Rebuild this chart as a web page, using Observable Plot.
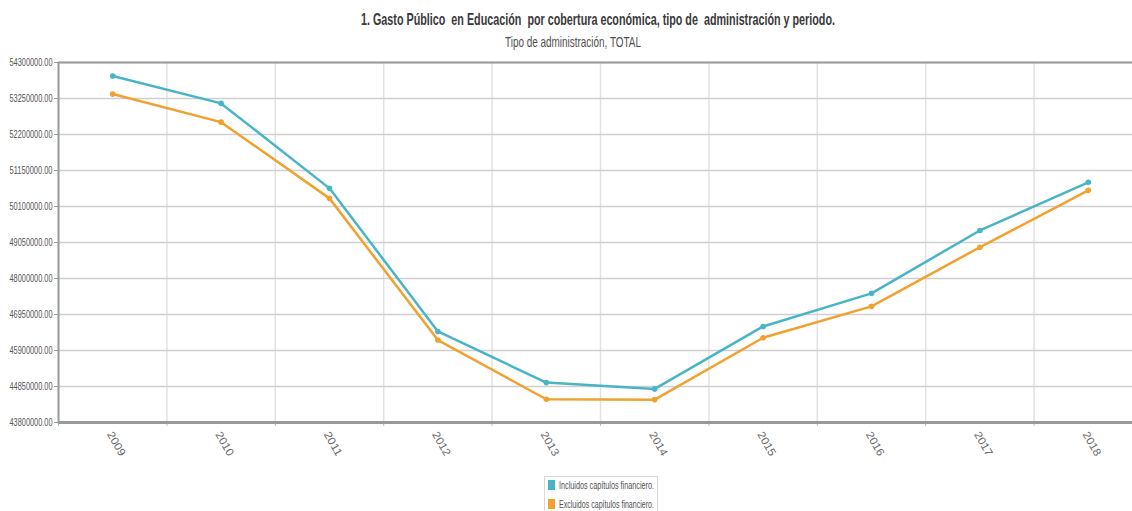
<!DOCTYPE html>
<html>
<head>
<meta charset="utf-8">
<script src="https://cdn.jsdelivr.net/npm/d3@7"></script>
<script src="https://cdn.jsdelivr.net/npm/@observablehq/plot@0.6"></script>
<style>
  html, body { margin: 0; padding: 0; background: #fff; overflow: hidden; width: 1132px; height: 511px; }
  #wrap { position: relative; width: 1132px; height: 511px; overflow: hidden; font-family: "Liberation Sans", Arial, sans-serif; }
  #title { position: absolute; left: 361px; top: 10px; font-size: 17px; font-weight: bold; color: #3a3a3a; white-space: pre; transform-origin: 0 0; }
  #subtitle { position: absolute; left: 505px; top: 33px; font-size: 15px; color: #505050; white-space: pre; transform-origin: 0 0; }
  #chart { position: absolute; left: 0; top: 0; width: 1142px; }
  #chart svg { max-width: none !important; }
  #legend { position: absolute; left: 544px; top: 476px; width: 112px; height: 40px; border: 1px solid #d8d8d8; }
  .sw { position: absolute; left: 3px; width: 7px; height: 10px; }
  .lt { position: absolute; left: 14px; font-size: 11px; color: #505050; white-space: pre; transform-origin: 0 0; line-height: 12px; }
</style>
</head>
<body>
<div id="wrap">
  <div id="chart"></div>
  <div id="title">1. Gasto Público  en Educación  por cobertura económica, tipo de  administración y periodo.</div>
  <div id="subtitle">Tipo de administración, TOTAL</div>
  <div id="legend"></div>
</div>
<script>
const years = [2009, 2010, 2011, 2012, 2013, 2014, 2015, 2016, 2017, 2018];
const seriesNames = ["Incluidos capítulos financiero.", "Excluidos capítulos financiero."];
const incluidos = [53905000, 53107000, 50629000, 46455000, 44964000, 44780000, 46602000, 47567000, 49401000, 50805000];
const excluidos = [53379000, 52560000, 50337000, 46204000, 44478000, 44467000, 46271000, 47187000, 48912000, 50571000];
const yTicks = [43800000, 44850000, 45900000, 46950000, 48000000, 49050000, 50100000, 51150000, 52200000, 53250000, 54300000];
const colors = ["#4ab4c7", "#f0a12e"];

const data = [];
years.forEach((y, i) => {
  data.push({year: y, value: incluidos[i], serie: seriesNames[0]});
  data.push({year: y, value: excluidos[i], serie: seriesNames[1]});
});
const bandEdges = years.map(y => y - 0.5).concat([years[years.length - 1] + 0.5]);

const font = "'Liberation Sans', Arial, sans-serif";

const chart = Plot.plot({
  width: 1142,
  height: 470,
  marginTop: 62,
  marginBottom: 48,
  marginLeft: 58,
  marginRight: 0,
  style: { fontFamily: font, fontSize: "10px", color: "#555", background: "transparent", overflow: "visible", maxWidth: "none" },
  x: { domain: [2008.5, 2018.5], axis: null, label: null },
  y: { domain: [43800000, 54300000], axis: null, label: null },
  color: { domain: seriesNames, range: colors },
  marks: [
    Plot.ruleX(bandEdges, { stroke: "#e2e2e2", strokeWidth: 1.5 }),
    Plot.ruleY(yTicks, { stroke: "#cfcfcf", strokeWidth: 1.5 }),
    Plot.ruleY([54300000], { stroke: "#9a9a9a", strokeWidth: 2 }),
    Plot.axisY({ ticks: yTicks, tickFormat: d => d.toFixed(2), tickSize: 4, tickPadding: 2, stroke: "#999", fill: "#555", fontSize: 11, label: null }),
    Plot.ruleX([2008.5], { stroke: "#999", strokeWidth: 2 }),
    Plot.axisX({ ticks: bandEdges, tickFormat: () => "", tickSize: 4, stroke: "#bbb", label: null }),
    Plot.axisX({ ticks: years, tickFormat: d => String(d), tickSize: 0, tickPadding: 10, tickRotate: 60, fill: "#666", fontSize: 11, dx: -3, label: null }),
    Plot.ruleY([43800000], { stroke: "#999", strokeWidth: 3 }),
    Plot.line(data, { x: "year", y: "value", z: "serie", stroke: "serie", strokeWidth: 2.5 }),
    Plot.dot(data, { x: "year", y: "value", fill: "serie", r: 2.8, stroke: "none" })
  ]
});
document.getElementById("chart").appendChild(chart);

// condensed look: fit tick label widths
chart.querySelectorAll("text").forEach(t => {
  const s = t.textContent.trim();
  if (/\.00$/.test(s)) {
    t.setAttribute("textLength", "43");
    t.setAttribute("lengthAdjust", "spacingAndGlyphs");
  } else if (/^\d{4}$/.test(s)) {
    t.setAttribute("textLength", "26");
    t.setAttribute("lengthAdjust", "spacingAndGlyphs");
  }
});

function fitWidth(el, target) {
  const w = el.getBoundingClientRect().width;
  el.style.transform = `scaleX(${target / w})`;
}
fitWidth(document.getElementById("title"), 474);
fitWidth(document.getElementById("subtitle"), 136);

const legend = document.getElementById("legend");
seriesNames.forEach((name, i) => {
  const top = i === 0 ? 3 : 22;
  const sw = document.createElement("div");
  sw.className = "sw";
  sw.style.top = top + "px";
  sw.style.background = colors[i];
  legend.appendChild(sw);
  const lt = document.createElement("div");
  lt.className = "lt";
  lt.style.top = (top - 1) + "px";
  lt.textContent = name;
  legend.appendChild(lt);
  fitWidth(lt, 95);
});
</script>
</body>
</html>
